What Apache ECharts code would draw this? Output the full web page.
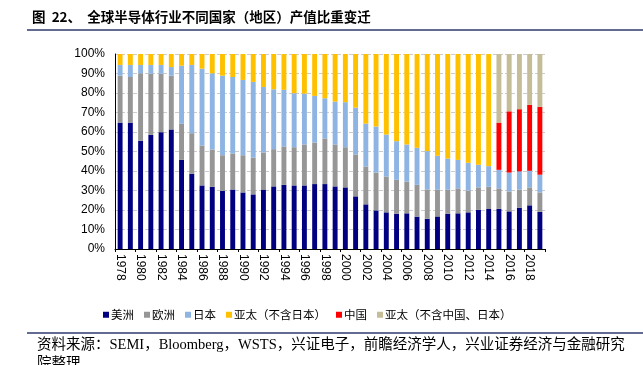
<!DOCTYPE html>
<html><head><meta charset="utf-8">
<script src="https://cdn.jsdelivr.net/npm/echarts@6/dist/echarts.min.js"></script>
<style>html,body{margin:0;padding:0;background:#fff}#c{width:643px;height:365px}</style>
</head><body><div id="c"></div>
<script>
const years = [];
for (let y = 1978; y <= 2019; y++) years.push(String(y));
const america = [64.8,64.8,55.5,58.5,59.9,61.3,45.7,38.6,32.6,31.9,29.9,30.5,29.0,28.0,30.5,32.1,32.9,32.6,32.6,33.3,33.3,32.1,31.6,27.0,22.9,19.8,18.8,18.1,18.3,16.6,15.5,16.7,18.1,18.3,18.8,20.1,20.5,20.6,19.3,21.2,22.4,19.1];
const europe = [24.1,23.4,34.6,31.4,30.0,27.6,18.5,20.8,20.5,19.1,18.2,18.5,19.1,18.9,19.0,19.1,19.7,19.6,21.0,21.3,23.4,21.5,20.6,21.5,19.4,19.4,18.4,17.4,16.3,16.3,15.0,13.7,12.3,12.8,11.2,11.5,11.4,10.5,10.2,9.3,9.2,9.9];
const japan = [5.5,6.2,4.3,4.5,4.5,4.4,29.8,35.0,39.4,39.1,40.8,39.2,38.6,38.8,33.6,30.7,29.0,27.7,26.1,23.9,20.6,22.0,23.1,24.0,22.0,23.6,21.5,19.8,19.0,19.0,19.7,17.4,16.0,14.6,14.2,11.6,10.6,9.5,9.7,9.3,8.5,9.1];
const apacExJapan = [5.6,5.6,5.6,5.6,5.6,6.7,6.0,5.6,7.5,9.9,11.1,11.8,13.3,14.3,16.9,18.1,18.4,20.1,20.3,21.5,22.7,24.4,24.7,27.5,35.7,37.2,41.3,44.7,46.4,48.1,49.8,52.2,53.6,54.3,55.8,56.8,57.5,null,null,null,null,null];
const china = [null,null,null,null,null,null,null,null,null,null,null,null,null,null,null,null,null,null,null,null,null,null,null,null,null,null,null,null,null,null,null,null,null,null,null,null,null,24.2,31.4,31.9,33.8,34.8];
const apacExChinaJapan = [null,null,null,null,null,null,null,null,null,null,null,null,null,null,null,null,null,null,null,null,null,null,null,null,null,null,null,null,null,null,null,null,null,null,null,null,null,35.2,29.4,28.3,26.1,27.1];
const yTicks = [0,10,20,30,40,50,60,70,80,90,100];

const names = ['美洲','欧洲','日本','亚太（不含日本）','中国','亚太（不含中国、日本）'];
const colors = ['#000080','#969696','#8DB4E2','#FFC000','#FF0000','#C4BD97'];
const datas = [america, europe, japan, apacExJapan, china, apacExChinaJapan];

const chart = echarts.init(document.getElementById('c'), null, {renderer:'canvas'});
chart.setOption({
  animation:false,
  textStyle:{fontFamily:'Liberation Sans, Arial, sans-serif'},
  grid:{left:115,right:98,top:54,bottom:116},
  legend:{
    top:304, left:98,
    itemWidth:6, itemHeight:6, itemGap:10,
    icon:'rect',
    textStyle:{fontSize:11.5,color:'#000',fontFamily:'Noto Sans CJK SC, sans-serif',padding:[0,0,0,-3]},
    data:names
  },
  xAxis:{
    type:'category', data:years,
    axisLine:{lineStyle:{color:'#000',width:1}},
    axisTick:{show:true,length:3,lineStyle:{color:'#000'}},
    axisLabel:{rotate:-90,interval:1,color:'#000',fontSize:12,margin:5}
  },
  yAxis:{
    type:'value', min:0, max:100, interval:10,
    axisLine:{show:true,lineStyle:{color:'#000'}},
    axisTick:{show:false},
    axisLabel:{formatter:v=>yTicks.includes(v)?v+'%':'',color:'#000',fontSize:12,margin:10},
    splitLine:{lineStyle:{color:'#cccccc',type:'dashed'}}
  },
  series: names.map((n,i)=>({
    name:n, type:'bar', stack:'total', data:datas[i],
    barWidth:'48%',
    itemStyle:{color:colors[i]}
  })),
  graphic:[
    {type:'text',left:32,top:10,style:{text:'图  22、  全球半导体行业不同国家（地区）产值比重变迁',font:'bold 13.5px "Noto Sans CJK SC", sans-serif',fill:'#000'}},
    {type:'line',shape:{x1:27,y1:30,x2:643,y2:30},style:{stroke:'#2F3A6F',lineWidth:1.5}},
    {type:'line',shape:{x1:27,y1:333,x2:643,y2:333},style:{stroke:'#2F3A6F',lineWidth:1.5}},
    {type:'text',left:37,top:338,style:{text:'资料来源：SEMI，Bloomberg，WSTS，兴证电子，前瞻经济学人，兴业证券经济与金融研究',font:'14.5px "Liberation Serif", "Noto Sans CJK SC", serif',fill:'#000'}},
    {type:'text',left:37,top:357,style:{text:'院整理',font:'14.5px "Liberation Serif", "Noto Sans CJK SC", serif',fill:'#000'}}
  ]
});
</script></body></html>
